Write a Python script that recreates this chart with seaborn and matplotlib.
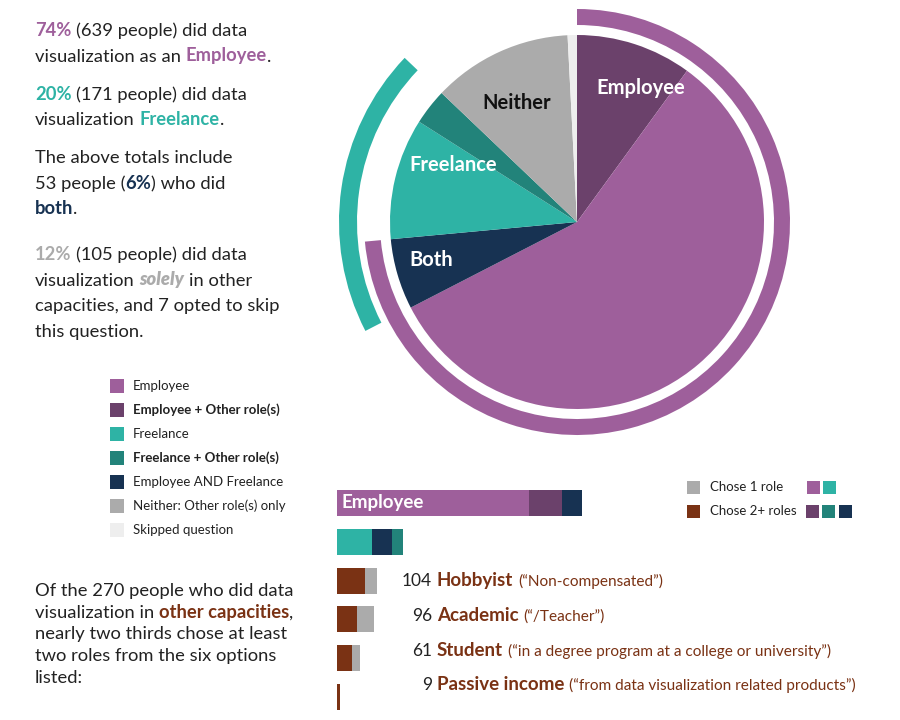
import numpy as np
import pandas as pd
import matplotlib
matplotlib.use('Agg')
import matplotlib.pyplot as plt
import seaborn as sns
from matplotlib.patches import Rectangle

# pie slices, clockwise from 12 o'clock
pie_labels = ['Employee + Other role(s)', 'Employee', 'Employee AND Freelance', 'Freelance',
              'Freelance + Other role(s)', 'Neither: Other role(s) only', 'Skipped question']
pie_counts = [87, 499, 53, 91, 27, 105, 7]

employee_total = 639
freelance_total = 171
both_total = 53

# stacked bars
bar_rows = ['Employee', 'Freelance', 'Hobbyist', 'Academic', 'Student', 'Passive income']
bar_seg1 = [499, 91, 73, 52, 39, 7]
bar_seg2 = [87, 53, 31, 44, 22, 2]
bar_seg3 = [53, 27, 0, 0, 0, 0]
other_totals = [104, 96, 61, 9]
other_names = ['Hobbyist', 'Academic', 'Student', 'Passive income']
other_notes = ['(\u201cNon-compensated\u201d)', '(\u201c/Teacher\u201d)',
               '(\u201cin a degree program at a college or university\u201d)',
               '(\u201cfrom data visualization related products\u201d)']

PURPLE = '#9E5F9B'
DKPURPLE = '#6B416B'
TEAL = '#2EB3A5'
DKTEAL = '#22837A'
NAVY = '#173252'
GRAY = '#ABABAB'
LIGHT = '#EEEEEE'
BROWN = '#7A3214'
DARK = '#222222'
FONT = 'Lato'

sns.set_theme(style='white')
plt.rcParams['font.family'] = [FONT, 'DejaVu Sans']

fig = plt.figure(figsize=(9, 7.2), dpi=100)
W, H = 900, 720
fx = lambda x: x / W
fy = lambda y: 1 - y / H

# ---- pie + rings ----
cx, cy, R = 577, 222, 187
half = 1.32 * R
ax_pie = fig.add_axes([fx(cx - half), fy(cy + half), 2 * half / W, 2 * half / H])
pie_colors = [DKPURPLE, PURPLE, NAVY, TEAL, DKTEAL, GRAY, LIGHT]
ax_pie.pie(pie_counts, colors=pie_colors, startangle=90, counterclock=False,
           radius=1, wedgeprops=dict(linewidth=0))
total = sum(pie_counts)
ax_pie.pie([employee_total, total - employee_total], colors=[PURPLE, 'none'],
           startangle=90, counterclock=False, radius=213 / R,
           wedgeprops=dict(width=16 / R, linewidth=0))
ax_pie.pie([employee_total - both_total, freelance_total, total - employee_total - freelance_total + both_total],
           colors=['none', TEAL, 'none'], startangle=90, counterclock=False, radius=238 / R,
           wedgeprops=dict(width=18 / R, linewidth=0))
ax_pie.set_xlim(-1.32, 1.32)
ax_pie.set_ylim(-1.32, 1.32)
ax_pie.set_aspect('equal')
ax_pie.axis('off')

for lab, (px, py), col in [('Employee', (641, 88), 'white'), ('Neither', (517, 103), '#111111'),
                           ('Freelance', (453, 165), 'white'), ('Both', (431, 260), 'white')]:
    ax_pie.text((px - cx) / R, (cy - py) / R, lab, color=col, fontsize=14.5, fontweight='bold',
                ha='center', va='center')

# ---- stacked bars ----
ax_bar = fig.add_axes([fx(337), fy(716.5), (W - 337) / W, 233 / H])
cum1 = np.array(bar_seg1)
cum2 = cum1 + np.array(bar_seg2)
cum3 = cum2 + np.array(bar_seg3)
col1 = [PURPLE, TEAL, BROWN, BROWN, BROWN, BROWN]
col2 = [DKPURPLE, NAVY, GRAY, GRAY, GRAY, GRAY]
col3 = [NAVY, DKTEAL, GRAY, GRAY, GRAY, GRAY]
for vals, cols in [(cum3, col3), (cum2, col2), (cum1, col1)]:
    df = pd.DataFrame({'role': bar_rows, 'n': vals})
    sns.barplot(data=df, x='n', y='role', hue='role', palette=cols, legend=False,
                orient='h', width=0.67, linewidth=0, saturation=1, ax=ax_bar)
ax_bar.set_xlim(0, (W - 337) / 0.384)
ax_bar.set_ylim(5.5, -0.5)
ax_bar.axis('off')
ax_bar.text(13, 0, 'Employee', color='white', fontsize=13.5, fontweight='bold', va='center', ha='left')

renderer = fig.canvas.get_renderer()


def text_w(s, **kw):
    t = fig.text(0, 0, '|' + s + '|', **kw)
    w = t.get_window_extent(renderer).width
    t.remove()
    t = fig.text(0, 0, '||', **kw)
    w -= t.get_window_extent(renderer).width
    t.remove()
    return w


def rich(x, y, parts, size):
    for p in parts:
        s, color = p[0], p[1]
        weight = p[2] if len(p) > 2 else 'normal'
        style = p[3] if len(p) > 3 else 'normal'
        kw = dict(fontsize=size, fontweight=weight, fontstyle=style)
        sp = text_w(' ', **kw)
        lead = len(s) - len(s.lstrip(' '))
        trail = len(s) - len(s.rstrip(' '))
        core = s.strip(' ')
        x += lead * sp
        fig.text(fx(x), fy(y), core, color=color, va='baseline', ha='left', **kw)
        x += text_w(core, **kw) + trail * sp
    return x


TS = 13.2
paras = [
    (36, [('74%', PURPLE, 'bold'), (' (639 people) did data', DARK)]),
    (61.5, [('visualization as an ', DARK), ('Employee', PURPLE, 'bold'), ('.', DARK)]),
    (100, [('20%', TEAL, 'bold'), (' (171 people) did data', DARK)]),
    (125, [('visualization ', DARK), ('Freelance', TEAL, 'bold'), ('.', DARK)]),
    (163, [('The above totals include', DARK)]),
    (189, [('53 people (', DARK), ('6%', NAVY, 'bold'), (') who did', DARK)]),
    (214, [('both', NAVY, 'bold'), ('.', DARK)]),
    (260, [('12%', GRAY, 'bold'), (' (105 people) did data', DARK)]),
    (285.5, [('visualization ', DARK), ('solely', GRAY, 'heavy', 'italic'), (' in other', DARK)]),
    (311, [('capacities, and 7 opted to skip', DARK)]),
    (337, [('this question.', DARK)]),
    (596, [('Of the 270 people who did data', DARK)]),
    (618, [('visualization in ', DARK), ('other capacities', BROWN, 'bold'), (',', DARK)]),
    (639.5, [('nearly two thirds chose at least', DARK)]),
    (661, [('two roles from the six options', DARK)]),
    (683, [('listed:', DARK)]),
]
for y, parts in paras:
    rich(35, y, parts, TS)

# left legend
leg_colors = [PURPLE, DKPURPLE, TEAL, DKTEAL, NAVY, GRAY, LIGHT]
leg_labels = ['Employee', 'Employee + Other role(s)', 'Freelance', 'Freelance + Other role(s)',
              'Employee AND Freelance', 'Neither: Other role(s) only', 'Skipped question']
leg_bold = [False, True, False, True, False, False, False]
for i, (c, lab, b) in enumerate(zip(leg_colors, leg_labels, leg_bold)):
    yc = 386 + 24 * i
    fig.add_artist(Rectangle((fx(110), fy(yc + 7)), 14 / W, 14 / H, transform=fig.transFigure,
                             facecolor=c, edgecolor='none'))
    fig.text(fx(133), fy(yc), lab, fontsize=9.5, color=DARK, fontweight='bold' if b else 'normal',
             va='center', ha='left')

# top-right legend
def sq(x, y, c):
    fig.add_artist(Rectangle((fx(x), fy(y + 13)), 13 / W, 13 / H, transform=fig.transFigure,
                             facecolor=c, edgecolor='none'))


sq(687, 481, GRAY)
fig.text(fx(710), fy(487), 'Chose 1 role', fontsize=9.5, color=DARK, va='center')
sq(807, 481, PURPLE)
sq(823, 481, TEAL)
sq(687, 505, BROWN)
fig.text(fx(710), fy(511), 'Chose 2+ roles', fontsize=9.5, color=DARK, va='center')
sq(806, 505, DKPURPLE)
sq(822, 505, DKTEAL)
sq(839, 505, NAVY)

# labels next to the "other capacities" bars
label_base = [586, 621, 656, 690]
for n, name, note, yb in zip(other_totals, other_names, other_notes, label_base):
    fig.text(fx(432), fy(yb), str(n), fontsize=12.5, color=DARK, ha='right', va='baseline')
    x = rich(437, yb, [(name + ' ', BROWN, 'bold')], 13.5)
    rich(x, yb, [(note, BROWN)], 11.1)

fig.savefig('out.png', dpi=100, facecolor='white')
